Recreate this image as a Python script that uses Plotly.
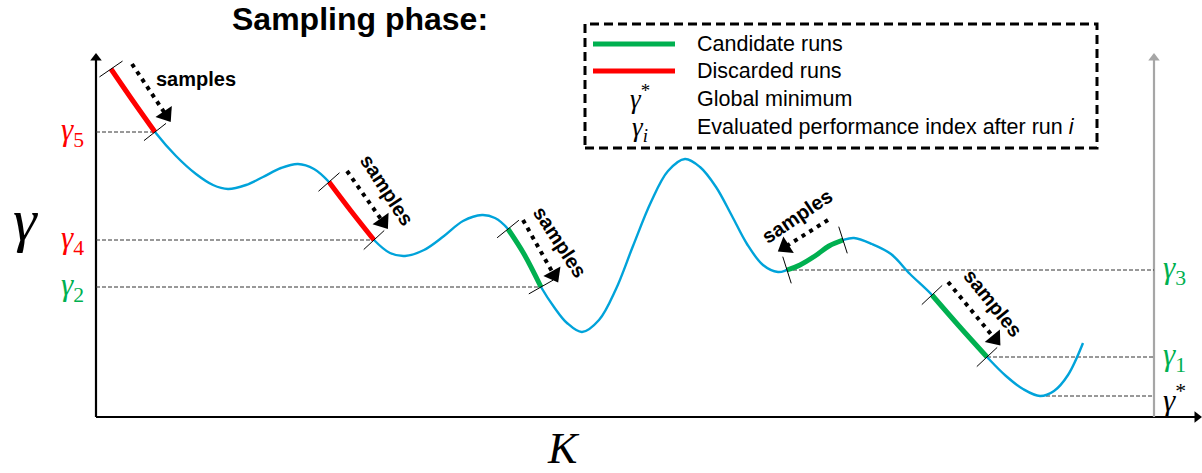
import math
import plotly.graph_objects as go

# ---------------------------------------------------------------------------
# Data: objective landscape gamma(K) sampled at knots along the curve
# ---------------------------------------------------------------------------
K_curve = [15, 37, 59, 80, 100, 117, 132, 150, 167, 185, 202, 218, 233, 255, 278,
           294, 309, 328, 348, 367, 386, 399, 412, 428, 445, 458, 471, 486,
           503, 520, 537, 555, 572, 589, 604, 620, 636, 651, 667, 682, 691, 704, 719, 733, 747,
           758, 776, 795, 814, 836, 863, 891, 910, 927, 944, 958, 972, 987]
gamma_curve = [348, 316, 285, 261, 243, 232, 228, 232, 240, 249, 253, 248, 235, 206, 177,
               164, 161, 167, 181, 196, 202, 199, 188, 163, 130, 110, 94, 85,
               97, 128, 171, 215, 246, 258, 250, 230, 201, 173, 152, 145, 147, 152, 161, 171, 177,
               179, 173, 163, 143, 122, 91, 60, 41, 28, 21, 26, 42, 74]

# Runs i = 1..5: start / end of each run on K, gamma_i at the end of run i
run_labels = ["1", "2", "3", "4", "5"]
run_start_K = [836, 412, 747, 233, 15]
run_end_K = [891, 445, 691, 278, 59]
run_gamma = [60, 130, 147, 177, 285]
run_status = ["candidate", "candidate", "candidate", "discarded", "discarded"]
run_label_side = ["right", "left", "right", "left", "left"]

# Global minimum
gstar_K = 944
gstar_gamma = 21

# "samples" arrows next to each run (tail -> head) and their captions
arrow_tail_K = [852, 427, 732, 251, 36]
arrow_tail_g = [135, 197, 197, 246, 353]
arrow_head_K = [899, 458, 689, 287, 70]
arrow_head_g = [78, 142, 170, 195, 302]
caption_K = [897, 464, 701, 291, 100]
caption_g = [114, 175, 201, 227, 338]
caption_angle = [51, 57, -34, 57, 0]

# Axes extents
K_axis_end = 1106
gamma_axis_top = 364
right_axis_K = 1058

# ---------------------------------------------------------------------------
BLUE = "#00A3DA"
GREEN = "#00B050"
RED = "#FF0000"
GREY = "#A6A6A6"
SANS = "Arial, Liberation Sans, sans-serif"
SERIF = "Cambria Math, Liberation Serif, DejaVu Serif, serif"
status_color = {"candidate": GREEN, "discarded": RED}

fig = go.Figure()

# Coordinate axes
fig.add_trace(go.Scatter(x=[0, 0], y=[0, gamma_axis_top - 6], mode="lines",
                         line=dict(color="black", width=2.2), hoverinfo="skip"))
fig.add_trace(go.Scatter(x=[0, K_axis_end - 6], y=[0, 0], mode="lines",
                         line=dict(color="black", width=2.2), hoverinfo="skip"))
fig.add_trace(go.Scatter(x=[right_axis_K, right_axis_K], y=[0, gamma_axis_top - 6], mode="lines",
                         line=dict(color=GREY, width=2.2), hoverinfo="skip"))
fig.add_trace(go.Scatter(
    x=[0, right_axis_K, K_axis_end - 5], y=[gamma_axis_top - 5, gamma_axis_top - 5, 0],
    mode="markers", hoverinfo="skip",
    marker=dict(symbol="triangle-up", size=10, angle=[0, 0, 90], opacity=1,
                color=["black", GREY, "black"], line=dict(width=0))))

# Helper levels gamma_i
for g, kend, side in zip(run_gamma, run_end_K, run_label_side):
    xs = [0, kend] if side == "left" else [kend, right_axis_K]
    fig.add_trace(go.Scatter(x=xs, y=[g, g], mode="lines", hoverinfo="skip",
                             line=dict(color="#333333", width=1, dash="4px,2px")))
fig.add_trace(go.Scatter(x=[gstar_K, right_axis_K], y=[gstar_gamma, gstar_gamma], mode="lines",
                         hoverinfo="skip", line=dict(color="#333333", width=1, dash="4px,2px")))

# Landscape curve
fig.add_trace(go.Scatter(x=K_curve, y=gamma_curve, mode="lines", hoverinfo="skip",
                         line=dict(color=BLUE, width=2.4, shape="spline", smoothing=1,
                                   simplify=False)))

# Runs highlighted on the curve
for ks, ke, st in zip(run_start_K, run_end_K, run_status):
    lo, hi = min(ks, ke), max(ks, ke)
    seg = [(k, g) for k, g in zip(K_curve, gamma_curve) if lo <= k <= hi]
    fig.add_trace(go.Scatter(x=[p[0] for p in seg], y=[p[1] for p in seg], mode="lines",
                             hoverinfo="skip",
                             line=dict(color=status_color[st], width=5, shape="spline",
                                       simplify=False)))


def tangent_angle(k):
    """Screen angle (clockwise, degrees) of the curve direction at knot k."""
    i = K_curve.index(k)
    a, b = max(i - 1, 0), min(i + 1, len(K_curve) - 1)
    return math.degrees(math.atan2(-(gamma_curve[b] - gamma_curve[a]), K_curve[b] - K_curve[a]))


# Short ticks across the curve at the ends of every run
tick_x, tick_y, tick_a = [], [], []
for ks, ke in zip(run_start_K, run_end_K):
    for k in (ks, ke):
        tick_x.append(k)
        tick_y.append(gamma_curve[K_curve.index(k)])
        tick_a.append(tangent_angle(k))
fig.add_trace(go.Scatter(x=tick_x, y=tick_y, mode="markers", hoverinfo="skip",
                         marker=dict(symbol="line-ns", size=20, angle=tick_a,
                                     line=dict(color="black", width=1))))

# "samples" arrows
for tk, tg, hk, hg in zip(arrow_tail_K, arrow_tail_g, arrow_head_K, arrow_head_g):
    fig.add_trace(go.Scatter(x=[tk, hk], y=[tg, hg], mode="lines", hoverinfo="skip",
                             line=dict(color="black", width=4, dash="4px,5px")))
    fig.add_trace(go.Scatter(x=[tk, hk], y=[tg, hg], mode="markers", hoverinfo="skip",
                             marker=dict(symbol="triangle-up", size=[0, 17], angleref="previous",
                                         color="black", opacity=1, line=dict(width=0))))

annotations = []
for ck, cg, ca in zip(caption_K, caption_g, caption_angle):
    annotations.append(dict(x=ck, y=cg, text="<b>samples</b>", showarrow=False, textangle=ca,
                            font=dict(family=SANS, size=20, color="black"),
                            xanchor="center", yanchor="middle"))

# gamma_i labels
for lab, g, st, side in zip(run_labels, run_gamma, run_status, run_label_side):
    if side == "left":
        annotations.append(dict(x=-10, y=g, text=f"<i>γ</i><sub>{lab}</sub>", showarrow=False,
                                xanchor="right", yanchor="middle",
                                font=dict(family=SERIF, size=31, color=status_color[st])))
    else:
        annotations.append(dict(x=right_axis_K + 7, y=g, text=f"<i>γ</i><sub>{lab}</sub>",
                                showarrow=False, xanchor="left", yanchor="middle",
                                font=dict(family=SERIF, size=31, color=status_color[st])))
annotations.append(dict(x=right_axis_K + 7, y=gstar_gamma - 2, text="<i>γ</i><sup>*</sup>",
                        showarrow=False, xanchor="left", yanchor="middle",
                        font=dict(family=SERIF, size=31, color="black")))

# Axis titles and heading
annotations.append(dict(x=-71, y=197, text="<i>γ</i>", showarrow=False,
                        font=dict(family=SERIF, size=60, color="black")))
annotations.append(dict(x=467, y=-31, text="<i>K</i>", showarrow=False,
                        font=dict(family=SERIF, size=44, color="black")))
annotations.append(dict(x=264, y=398, text="<b>Sampling phase:</b>", showarrow=False,
                        font=dict(family=SANS, size=32, color="black")))

# Legend box
legend_x0, legend_x1 = 489, 1001
legend_y0, legend_y1 = 269, 393
shapes = [dict(type="rect", xref="x", yref="y", x0=legend_x0, x1=legend_x1,
               y0=legend_y0, y1=legend_y1, line=dict(color="black", width=3, dash="9px,5px"),
               fillcolor="white", layer="above")]
legend_rows_g = [373, 346, 318, 290]
legend_texts = ["Candidate runs", "Discarded runs", "Global minimum",
                "Evaluated performance index after run <i>i</i>"]
for g, c in zip(legend_rows_g[:2], [GREEN, RED]):
    shapes.append(dict(type="line", xref="x", yref="y", x0=497, x1=579, y0=g, y1=g,
                       line=dict(color=c, width=5), layer="above"))
annotations.append(dict(x=544, y=legend_rows_g[2] + 2, text="<i>γ</i><sup>*</sup>", showarrow=False,
                        font=dict(family=SERIF, size=27, color="black")))
annotations.append(dict(x=544, y=legend_rows_g[3] - 2, text="<i>γ</i><sub><i>i</i></sub>", showarrow=False,
                        font=dict(family=SERIF, size=27, color="black")))
for g, t in zip(legend_rows_g, legend_texts):
    annotations.append(dict(x=599, y=g, text=t, showarrow=False, xanchor="left", yanchor="middle",
                            font=dict(family=SANS, size=21.5, color="black")))

fig.update_layout(
    width=1202, height=473, margin=dict(l=0, r=0, t=0, b=0),
    paper_bgcolor="white", plot_bgcolor="white", showlegend=False,
    xaxis=dict(range=[-96, 1106], visible=False, fixedrange=True),
    yaxis=dict(range=[-56, 417], visible=False, fixedrange=True),
    annotations=annotations, shapes=shapes,
)

fig.write_html("out.html")
